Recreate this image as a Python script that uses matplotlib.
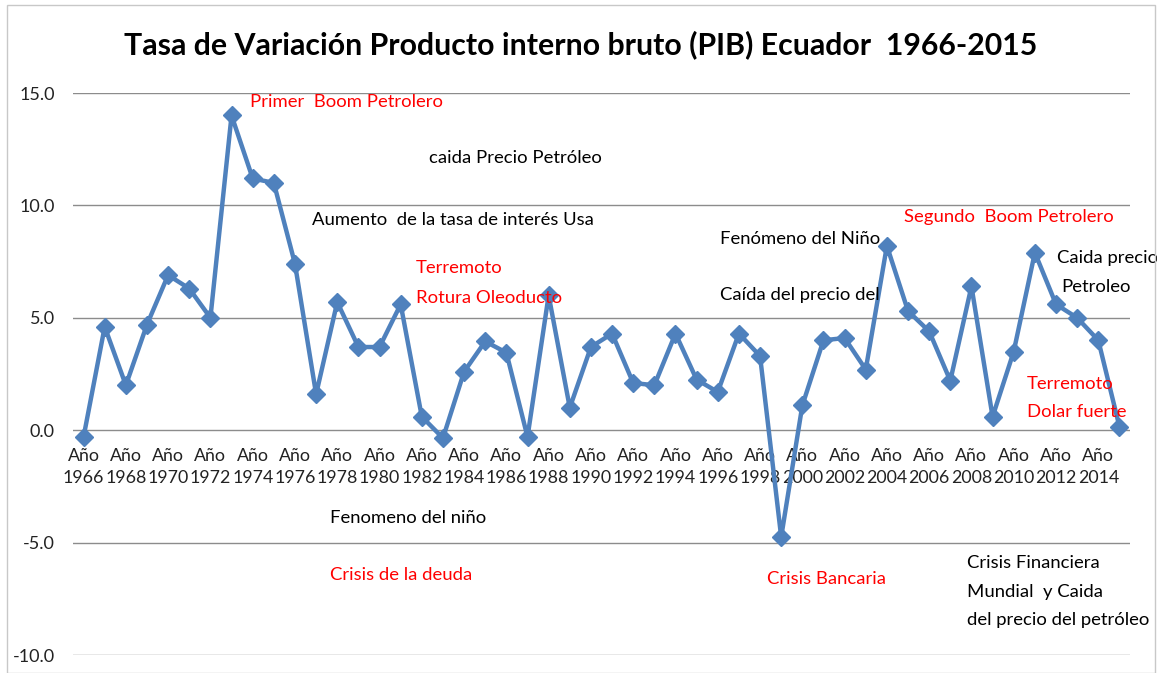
import matplotlib
matplotlib.use("Agg")
import matplotlib.pyplot as plt
from matplotlib.patches import Rectangle

plt.rcParams['font.family'] = ['Lato', 'DejaVu Sans']

years = list(range(1966, 2016))
growth = [-0.3, 4.6, 2.0, 4.7, 6.9, 6.3, 5.0, 14.0, 11.2, 11.0,
          7.4, 1.6, 5.7, 3.7, 3.7, 5.6, 0.6, -0.35, 2.6, 3.95,
          3.45, -0.3, 6.0, 1.0, 3.7, 4.3, 2.1, 2.0, 4.3, 2.25,
          1.7, 4.3, 3.3, -4.75, 1.1, 4.0, 4.1, 2.7, 8.2, 5.3,
          4.4, 2.2, 6.4, 0.6, 3.5, 7.9, 5.6, 5.0, 4.0, 0.16]
tick_years = years[::2]
tick_labels = [f"Año\n{y}" for y in tick_years]
y_ticks = [-10, -5, 0, 5, 10, 15]

title = "Tasa de Variación Producto interno bruto (PIB) Ecuador  1966-2015"

# annotations: (text, year-position, value-position, color)
notes = [
    ("Primer  Boom Petrolero", 1973.87, 14.6, "red"),
    ("caida Precio Petróleo", 1982.34, 12.1, "black"),
    ("Aumento  de la tasa de interés Usa", 1976.81, 9.35, "black"),
    ("Terremoto", 1981.73, 7.2, "red"),
    ("Rotura Oleoducto", 1981.73, 5.9, "red"),
    ("Fenómeno del Niño", 1996.1, 8.5, "black"),
    ("Caída del precio del", 1996.1, 6.0, "black"),
    ("Segundo  Boom Petrolero", 2004.81, 9.5, "red"),
    ("Caida precio", 2012.05, 7.65, "black"),
    ("Petroleo", 2012.24, 6.35, "black"),
    ("Terremoto", 2010.63, 2.05, "red"),
    ("Dolar fuerte", 2010.63, 0.8, "red"),
    ("Fenomeno del niño", 1977.66, -3.9, "black"),
    ("Crisis de la deuda", 1977.66, -6.45, "red"),
    ("Crisis Bancaria", 1998.33, -6.6, "red"),
    ("Crisis Financiera", 2007.79, -5.9, "black"),
    ("Mundial  y Caida", 2007.79, -7.2, "black"),
    ("del precio del petróleo", 2007.79, -8.45, "black"),
]

W, H = 1157, 673
fig = plt.figure(figsize=(W / 100, H / 100), dpi=100)
fig.patches.append(Rectangle((7 / W, 0), (1155 - 7) / W, 1 - 5 / H,
                             transform=fig.transFigure, fill=False,
                             edgecolor="#c8c8c8", lw=1.0))

ax = fig.add_axes([73 / W, 1 - 655 / H, (1130 - 73) / W, (655 - 93) / H])
ax.set_xlim(1965.5, 2015.5)
ax.set_ylim(-10, 15)
ax.set_yticks(y_ticks)
ax.set_yticklabels([f"{v:.1f}" for v in y_ticks], fontsize=13, color="#222222")
ax.yaxis.grid(True, color="#8c8c8c", lw=1.0)
ax.set_axisbelow(True)
for s in ["left", "right", "top"]:
    ax.spines[s].set_visible(False)
ax.spines["bottom"].set_position(("data", 0))
ax.spines["bottom"].set_visible(False)
ax.tick_params(axis="y", length=0, pad=13)
ax.tick_params(axis="x", length=0, pad=13)
ax.set_xticks(tick_years)
ax.set_xticklabels(tick_labels, fontsize=12.8, color="#222222", linespacing=1.45)

ax.plot(years, growth, color="#4F81BD", lw=3.2, marker="D", markersize=9.5,
        markerfacecolor="#4F81BD", markeredgecolor="#4F81BD", zorder=3)

for txt, x, y, c in notes:
    ax.text(x, y, txt, color=c, fontsize=13.3, ha="left", va="center", zorder=4)

fig.text(0.502, 1 - 45 / H, title, ha="center", va="center",
         fontsize=21.8, fontweight="bold", color="black")

fig.savefig("out.png", dpi=100, facecolor="white")
